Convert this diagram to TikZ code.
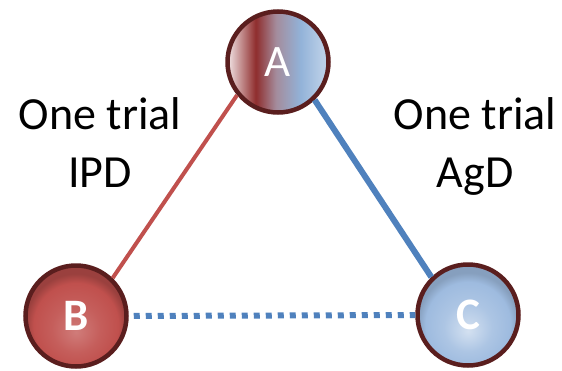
\documentclass[tikz,border=0pt]{standalone}
\usepackage{fontspec}
\setmainfont{Carlito}
\usetikzlibrary{shadings}

\definecolor{ringbrown}{HTML}{5A1E1E}
\definecolor{linkred}{HTML}{C0504D}
\definecolor{linkblue}{HTML}{4F81BD}
\definecolor{aPink}{HTML}{EBD8D9}
\definecolor{aDark}{HTML}{8F2D2D}
\definecolor{aMauve}{HTML}{A48C9C}
\definecolor{aBlue}{HTML}{92B2D8}
\definecolor{aLight}{HTML}{BACFE7}
\definecolor{cFill}{HTML}{9EBBDF}

% mixed red-to-blue fill of the shared node
\pgfdeclarehorizontalshading{mixedfill}{100bp}{%
  color(0bp)=(aPink); color(26bp)=(aPink); color(39bp)=(aDark);
  color(49bp)=(aMauve); color(61bp)=(aBlue); color(72bp)=(aLight);
  color(100bp)=(aLight)}

% glossy red and blue balls
\pgfdeclareradialshading{redball}{\pgfpoint{0bp}{-8bp}}{%
  color(0bp)=(linkred!75!white); color(12bp)=(linkred!92!white);
  color(21bp)=(linkred); color(25bp)=(linkred!80!black);
  color(50bp)=(linkred!80!black)}
\pgfdeclareradialshading{blueball}{\pgfpoint{0bp}{-8bp}}{%
  color(0bp)=(cFill!45!white); color(12bp)=(cFill!85!white);
  color(21bp)=(cFill); color(25bp)=(cFill!85!black);
  color(50bp)=(cFill!85!black)}

\tikzset{
  ball/.style={circle, minimum size=101pt, inner sep=0pt,
    draw=ringbrown, line width=4.5pt, text=white,
    font=\fontsize{45}{54}\selectfont},
  boldball/.style={ball, font=\fontsize{45}{54}\selectfont\bfseries},
  caption/.style={align=center, anchor=base,
    font=\fontsize{46}{58}\selectfont},
  redlink/.style={draw=linkred, line width=4pt},
  bluelink/.style={draw=linkblue, line width=6pt},
  dotlink/.style={draw=linkblue, line width=6pt, dash pattern=on 6pt off 6pt,
    dash phase=-5pt}
}

\begin{document}
\begin{tikzpicture}[x=1pt, y=-1pt]
  \useasboundingbox (0,0) rectangle (562,370);

  \coordinate (pa) at (278,62);
  \coordinate (pb) at (76,316);
  \coordinate (pc) at (468,315);

  % the three balls
  \node[ball, shading=mixedfill] (A) at (pa) {A};
  \node[boldball, shading=redball] (B) at (pb) {B};
  \node[boldball, shading=blueball] (C) at (pc) {C};

  % links between them
  \path[redlink] (A.219) -- (B.46);
  \path[bluelink] (A.314) -- (C.134);
  \path[dotlink] (B.east) -- (C.west);

  % two-line captions (anchored on the lower line's baseline)
  \node[caption] (ipd) at (100,187) {One trial\\IPD};
  \node[caption] (agd) at (475,187) {One trial\\AgD};
\end{tikzpicture}
\end{document}
